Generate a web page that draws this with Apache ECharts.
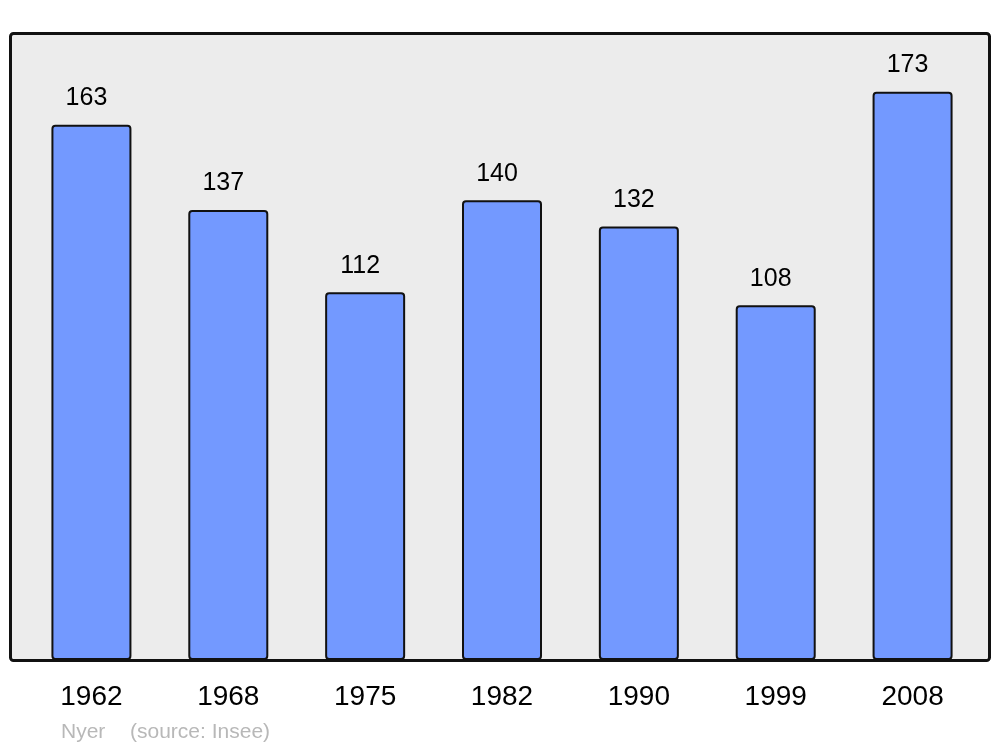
<!DOCTYPE html>
<html>
<head>
<meta charset="utf-8">
<script src="https://cdn.jsdelivr.net/npm/echarts@6/dist/echarts.min.js"></script>
<style>html,body{margin:0;padding:0;background:#fff;}#c{width:1000px;height:747px;}</style>
</head>
<body>
<div id="c"></div>
<script>
const years = ['1962','1968','1975','1982','1990','1999','2008'];
const population = [163, 137, 112, 140, 132, 108, 173];
const townName = 'Nyer';
const sourceText = '(source: Insee)';

const chart = echarts.init(document.getElementById('c'), null, {renderer: 'canvas'});
const FONT = '"Liberation Sans", Arial, sans-serif';
chart.setOption({
  animation: false,
  backgroundColor: '#ffffff',
  grid: {left: 23, right: 19, top: 34, bottom: 87, containLabel: false},
  xAxis: {
    type: 'category',
    data: years,
    axisLine: {show: false},
    axisTick: {show: false},
    axisLabel: {color: '#000', fontSize: 28, fontFamily: FONT, margin: 23}
  },
  yAxis: {
    type: 'value', min: 0, max: 190.6,
    show: false, splitLine: {show: false}
  },
  graphic: [
    {type: 'rect', z: -10, silent: true,
     shape: {x: 10.5, y: 33.5, width: 979, height: 627, r: 3},
     style: {fill: '#ececec', stroke: null}},
    {type: 'rect', z: 100, silent: true,
     shape: {x: 10.5, y: 33.5, width: 979, height: 627, r: 3},
     style: {fill: null, stroke: '#111', lineWidth: 3}},
    {type: 'text', left: 61, top: 722, silent: true,
     style: {text: townName, fill: '#b8b8b8', font: '21px ' + FONT}},
    {type: 'text', left: 130, top: 722, silent: true,
     style: {text: sourceText, fill: '#b8b8b8', font: '21px ' + FONT}}
  ],
  series: [{
    type: 'bar',
    data: population,
    barWidth: 80,
    itemStyle: {color: '#7399ff', borderColor: '#111', borderWidth: 2, borderRadius: 3},
    label: {show: true, position: 'top', distance: 14, offset: [-5, 0], color: '#000', fontSize: 25, fontFamily: FONT}
  }]
});
</script>
</body>
</html>
